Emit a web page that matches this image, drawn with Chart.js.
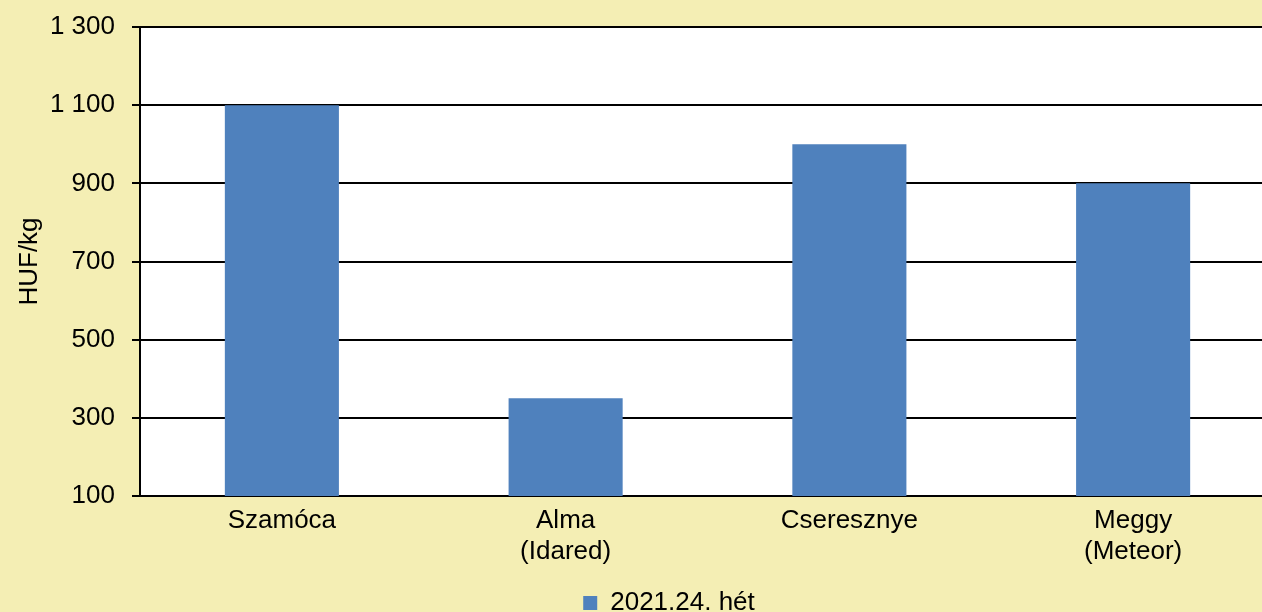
<!DOCTYPE html>
<html>
<head>
<meta charset="utf-8">
<script src="https://cdn.jsdelivr.net/npm/chart.js@4"></script>
<style>
  html, body { margin: 0; padding: 0; background: #F4EEB4; }
  #wrap { width: 1262px; height: 612px; }
</style>
</head>
<body>
<div id="wrap"><canvas id="myChart" width="1262" height="612"></canvas></div>
<script>
// Data
var categories = ["Szamóca", ["Alma", "(Idared)"], "Cseresznye", ["Meggy", "(Meteor)"]];
var seriesName = "2021.24. hét";
var prices = [1100, 350, 1000, 900];

// white plot area
var plotBg = {
    id: "plotBg",
    beforeDraw: function (chart) {
        var a = chart.chartArea, ctx = chart.ctx;
        ctx.save();
        ctx.fillStyle = "#ffffff";
        ctx.fillRect(a.left, a.top, a.right - a.left, a.bottom - a.top);
        ctx.restore();
    }
};

// in the original the plot runs a bit past the right edge,
// and the legend sits right of centre and low
var layoutTweak = {
    id: "layoutTweak",
    afterLayout: function (chart) {
        var x = chart.scales.x;
        x.right += 13;
        x.width += 13;
        x.configure();

        var lg = chart.legend;
        lg.left += 38; lg.right += 38;
        lg.top += 6; lg.bottom += 6;
    }
};

Chart.defaults.font.family = "'Liberation Sans', Arial, sans-serif";
Chart.defaults.color = "#000000";

var ctx = document.getElementById("myChart").getContext("2d");
var myChart = new Chart(ctx, {
    type: "bar",
    data: {
        labels: categories,
        datasets: [{
            label: seriesName,
            data: prices,
            backgroundColor: "#4F81BD",
            borderWidth: 0,
            categoryPercentage: 1,
            barPercentage: 0.402
        }]
    },
    options: {
        responsive: false,
        animation: false,
        layout: { padding: { top: 27, right: 0, left: 0, bottom: -8 } },
        plugins: {
            legend: {
                position: "bottom",
                labels: { boxWidth: 14, boxHeight: 14, padding: 4, font: { size: 26 } }
            },
            tooltip: { enabled: false }
        },
        scales: {
            x: {
                grid: { display: false, drawTicks: false },
                border: { display: true, color: "#000000", width: 2 },
                ticks: { font: { size: 26, lineHeight: 1.2 }, padding: 9, maxRotation: 0 },
                afterFit: function (scale) { scale.height = 84; }
            },
            y: {
                min: 100,
                max: 1300,
                ticks: {
                    stepSize: 200,
                    font: { size: 26 },
                    padding: 17,
                    callback: function (v) { return String(v).replace(/\B(?=(\d{3})+(?!\d))/g, " "); }
                },
                grid: { color: "#000000", lineWidth: 2, tickLength: 8 },
                border: { display: true, color: "#000000", width: 2 },
                title: { display: true, text: "HUF/kg", font: { size: 26 }, padding: { top: 14, bottom: 0 } },
                afterFit: function (scale) {
                    scale.width = 140;
                    scale.paddingTop = 0;
                    scale.paddingBottom = 0;
                }
            }
        }
    },
    plugins: [plotBg, layoutTweak]
});
</script>
</body>
</html>
